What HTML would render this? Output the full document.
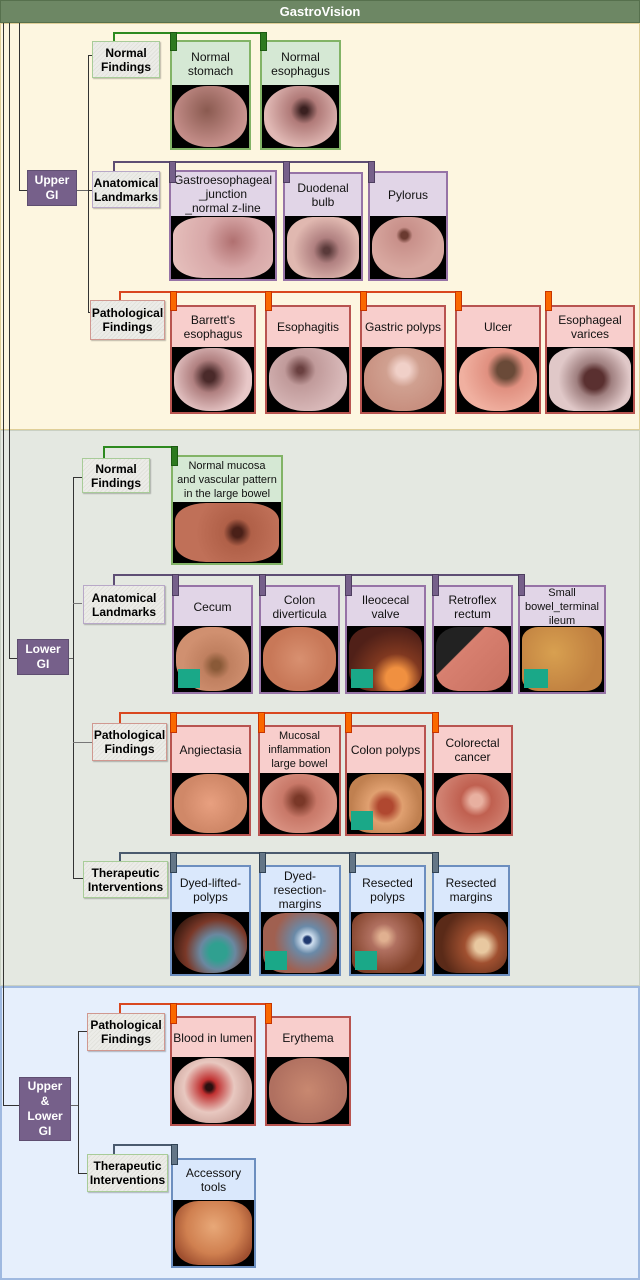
<!DOCTYPE html>
<html><head><meta charset="utf-8"><style>
*{margin:0;padding:0;box-sizing:border-box}
body{width:640px;height:1280px;position:relative;overflow:hidden;background:#fff;font-family:"Liberation Sans",sans-serif}
div{position:absolute}
.sec{left:0;width:640px}
.ln{background:#333}
.cat{border:1px solid #999;background:repeating-linear-gradient(135deg,#ecece8 0 2px,#e2e2dc 2px 3px);font-weight:bold;font-size:12px;line-height:14px;text-align:center;display:flex;align-items:center;justify-content:center;color:#000;box-shadow:1px 1px 1px rgba(0,0,0,.25)}
.grp{background:#76608a;color:#fff;font-weight:bold;font-size:12px;line-height:15px;text-align:center;display:flex;align-items:center;justify-content:center;border:1px solid #5e4e70}
.box{border:2px solid}
.hd{position:absolute;left:0;right:0;top:0;font-size:12px;line-height:14px;text-align:center;display:flex;align-items:center;justify-content:center;color:#111;white-space:nowrap}
.sm{font-size:11px}
.im{position:absolute;left:0;right:0;bottom:0;background:#000;overflow:hidden}
.im i{position:absolute;left:2%;top:2%;width:96%;height:96%;border-radius:45%;display:block}
.g{border-color:#82b366}.g .hd{background:#d5e8d4}
.p{border-color:#9673a6}.p .hd{background:#e1d5e7}
.r{border-color:#b85450}.r .hd{background:#f8cecc}
.b{border-color:#6c8ebf}.b .hd{background:#dae8fc}
.tg{background:#2d7a1f;border:1px solid #1c5a12}
.tp{background:#76608a;border:1px solid #4e3e60}
.tr{background:#fa6800;border:1px solid #c73500}
.tb{background:#647687;border:1px solid #314354}
</style></head><body>
<div class="sec" style="top:0;height:23px;background:#6d8764;border:1px solid #56704d;color:#fff;font-weight:bold;font-size:13px;text-align:center;line-height:22px">GastroVision</div>
<div class="sec" style="top:23px;height:407px;background:#fdf6e0;border:1px solid #e0cf98"></div>
<div class="sec" style="top:430px;height:556px;background:#e4e8e1;border:1px solid #c9d0c3"></div>
<div class="sec" style="top:986px;height:294px;background:#e6effc;border:2px solid #9fb9e0"></div>

<div class="ln" style="left:3px;top:23px;width:1px;height:1083px"></div>
<div class="ln" style="left:3px;top:1105px;width:16px;height:1px"></div>
<div class="ln" style="left:9px;top:23px;width:1px;height:636px"></div>
<div class="ln" style="left:9px;top:658px;width:8px;height:1px"></div>
<div class="ln" style="left:19px;top:23px;width:1px;height:168px"></div>
<div class="ln" style="left:19px;top:190px;width:8px;height:1px"></div>

<div class="grp" style="left:27px;top:170px;width:50px;height:36px">Upper<br>GI</div>
<div class="ln" style="left:77px;top:190px;width:11px;height:1px;background:#666"></div>
<div class="ln" style="left:88px;top:55px;width:1px;height:258px"></div>
<div class="ln" style="left:88px;top:55px;width:4px;height:1px"></div>
<div class="ln" style="left:88px;top:190px;width:4px;height:1px"></div>
<div class="ln" style="left:88px;top:312px;width:4px;height:1px"></div>

<div style="left:113px;top:32px;width:150px;height:2px;background:#2d8a1f"></div>
<div style="left:113px;top:32px;width:2px;height:10px;background:#2d8a1f"></div>
<div class="cat" style="left:92px;top:41px;width:68px;height:37px;border-color:#a8cc98">Normal<br>Findings</div>
<div class="box g" style="left:170px;top:40px;width:81px;height:110px"><div class="hd" style="height:43px">Normal<br>stomach</div><div class="im" style="top:43px"><i style="background:radial-gradient(circle at 45% 40%,#8a5a50,#c08a85 60%,#d8a8a0)"></i></div></div>
<div class="box g" style="left:260px;top:40px;width:81px;height:110px"><div class="hd" style="height:43px">Normal<br>esophagus</div><div class="im" style="top:43px"><i style="background:radial-gradient(circle at 55% 40%,#3a2020 6%,#b07a78 25%,#e0b8b4 70%)"></i></div></div>
<div class="tg" style="left:170px;top:32px;width:7px;height:19px"></div>
<div class="tg" style="left:260px;top:32px;width:7px;height:19px"></div>

<div style="left:113px;top:161px;width:258px;height:2px;background:#5e4e74"></div>
<div style="left:113px;top:161px;width:2px;height:11px;background:#5e4e74"></div>
<div class="cat" style="left:92px;top:171px;width:68px;height:37px;border-color:#b8a8c8">Anatomical<br>Landmarks</div>
<div class="box p" style="left:169px;top:170px;width:108px;height:111px"><div class="hd" style="height:44px">Gastroesophageal<br>_junction<br>_normal z-line</div><div class="im" style="top:44px"><i style="border-radius:30%;background:radial-gradient(circle at 60% 40%,#b07070,#d8a8a8 40%,#e8c4c0)"></i></div></div>
<div class="box p" style="left:283px;top:172px;width:80px;height:109px"><div class="hd" style="height:42px">Duodenal<br>bulb</div><div class="im" style="top:42px"><i style="border-radius:35%;background:radial-gradient(circle at 55% 55%,#5a3a3a 6%,#b08080 25%,#e0b8b0 65%)"></i></div></div>
<div class="box p" style="left:368px;top:171px;width:80px;height:110px"><div class="hd" style="height:43px">Pylorus</div><div class="im" style="top:43px"><i style="background:radial-gradient(circle at 45% 30%,#6a3a30 6%,#c8908a 14%,#d8a8a0 60%)"></i></div></div>
<div class="tp" style="left:169px;top:161px;width:7px;height:22px"></div>
<div class="tp" style="left:283px;top:161px;width:7px;height:22px"></div>
<div class="tp" style="left:368px;top:161px;width:7px;height:22px"></div>

<div style="left:119px;top:291px;width:342px;height:2px;background:#d9471f"></div>
<div style="left:119px;top:291px;width:2px;height:10px;background:#d9471f"></div>
<div class="cat" style="left:90px;top:300px;width:75px;height:40px;border-color:#d09890">Pathological<br>Findings</div>
<div class="box r" style="left:170px;top:305px;width:86px;height:109px"><div class="hd" style="height:40px">Barrett's<br>esophagus</div><div class="im" style="top:40px"><i style="background:radial-gradient(circle at 45% 45%,#4a2a2a 10%,#b08080 30%,#e8c8c8 70%)"></i></div></div>
<div class="box r" style="left:265px;top:305px;width:86px;height:109px"><div class="hd" style="height:40px">Esophagitis</div><div class="im" style="top:40px"><i style="background:radial-gradient(circle at 40% 35%,#6a4040 5%,#c09a9a 25%,#d8b8b8 70%)"></i></div></div>
<div class="box r" style="left:360px;top:305px;width:86px;height:109px"><div class="hd" style="height:40px">Gastric polyps</div><div class="im" style="top:40px"><i style="background:radial-gradient(circle at 50% 35%,#f0d0c8 12%,#d0a090 30%,#c89080 70%)"></i></div></div>
<div class="box r" style="left:455px;top:305px;width:86px;height:109px"><div class="hd" style="height:40px">Ulcer</div><div class="im" style="top:40px"><i style="background:radial-gradient(circle at 60% 35%,#6a4a38 14%,#e09080 30%,#f0b0a0 70%)"></i></div></div>
<div class="box r" style="left:545px;top:305px;width:90px;height:109px"><div class="hd" style="height:40px">Esophageal<br>varices</div><div class="im" style="top:40px"><i style="border-radius:30%;background:radial-gradient(circle at 55% 50%,#5a3030 18%,#a08080 32%,#e0c8c8 65%)"></i></div></div>
<div class="tr" style="left:170px;top:291px;width:7px;height:20px"></div>
<div class="tr" style="left:265px;top:291px;width:7px;height:20px"></div>
<div class="tr" style="left:360px;top:291px;width:7px;height:20px"></div>
<div class="tr" style="left:455px;top:291px;width:7px;height:20px"></div>
<div class="tr" style="left:545px;top:291px;width:7px;height:20px"></div>

<div class="grp" style="left:17px;top:639px;width:52px;height:36px">Lower<br>GI</div>
<div class="ln" style="left:69px;top:658px;width:4px;height:1px;background:#666"></div>
<div class="ln" style="left:73px;top:477px;width:1px;height:402px"></div>
<div class="ln" style="left:73px;top:477px;width:9px;height:1px"></div>
<div class="ln" style="left:73px;top:603px;width:9px;height:1px;background:#777"></div>
<div class="ln" style="left:73px;top:742px;width:19px;height:1px;background:#777"></div>
<div class="ln" style="left:73px;top:878px;width:10px;height:1px"></div>

<div style="left:103px;top:446px;width:72px;height:2px;background:#2d8a1f"></div>
<div style="left:103px;top:446px;width:2px;height:12px;background:#2d8a1f"></div>
<div class="cat" style="left:82px;top:458px;width:68px;height:35px;border-color:#a8cc98">Normal<br>Findings</div>
<div class="box g" style="left:171px;top:455px;width:112px;height:110px"><div class="hd sm" style="height:45px">Normal mucosa<br>and vascular pattern<br>in the large bowel</div><div class="im" style="top:45px"><i style="border-radius:30%;background:radial-gradient(circle at 60% 50%,#4a2018 7%,#b06048 20%,#c07058 60%)"></i></div></div>
<div class="tg" style="left:171px;top:446px;width:7px;height:20px"></div>

<div style="left:113px;top:574px;width:408px;height:2px;background:#5e4e74"></div>
<div style="left:113px;top:574px;width:2px;height:11px;background:#5e4e74"></div>
<div class="cat" style="left:83px;top:585px;width:82px;height:39px;border-color:#b8a8c8">Anatomical<br>Landmarks</div>
<div class="box p" style="left:172px;top:585px;width:81px;height:109px"><div class="hd" style="height:39px">Cecum</div><div class="im" style="top:39px"><i style="background:radial-gradient(circle at 55% 60%,#8a5a38 8%,#c08060 25%,#d09070 60%)"></i><b style="position:absolute;left:4px;bottom:4px;width:22px;height:19px;background:#1aa888"></b></div></div>
<div class="box p" style="left:259px;top:585px;width:81px;height:109px"><div class="hd" style="height:39px">Colon<br>diverticula</div><div class="im" style="top:39px"><i style="background:radial-gradient(circle at 50% 50%,#d89070,#c87858 60%)"></i></div></div>
<div class="box p" style="left:345px;top:585px;width:81px;height:109px"><div class="hd" style="height:39px">Ileocecal<br>valve</div><div class="im" style="top:39px"><i style="border-radius:30%;background:radial-gradient(circle at 65% 80%,#f09040 15%,#803820 35%,#502018 70%)"></i><b style="position:absolute;left:4px;bottom:4px;width:22px;height:19px;background:#1aa888"></b></div></div>
<div class="box p" style="left:432px;top:585px;width:81px;height:109px"><div class="hd" style="height:39px">Retroflex<br>rectum</div><div class="im" style="top:39px"><i style="border-radius:30%;background:linear-gradient(135deg,#222 35%,#d88070 36%,#c87060)"></i></div></div>
<div class="box p" style="left:518px;top:585px;width:88px;height:109px"><div class="hd sm" style="height:39px">Small<br>bowel_terminal<br>ileum</div><div class="im" style="top:39px"><i style="border-radius:20%;background:radial-gradient(circle at 40% 40%,#d8a050,#c08040 70%)"></i><b style="position:absolute;left:4px;bottom:4px;width:24px;height:19px;background:#1aa888"></b></div></div>
<div class="tp" style="left:172px;top:574px;width:7px;height:22px"></div>
<div class="tp" style="left:259px;top:574px;width:7px;height:22px"></div>
<div class="tp" style="left:345px;top:574px;width:7px;height:22px"></div>
<div class="tp" style="left:432px;top:574px;width:7px;height:22px"></div>
<div class="tp" style="left:518px;top:574px;width:7px;height:22px"></div>

<div style="left:119px;top:712px;width:320px;height:2px;background:#d9471f"></div>
<div style="left:119px;top:712px;width:2px;height:11px;background:#d9471f"></div>
<div class="cat" style="left:92px;top:723px;width:75px;height:38px;border-color:#d09890">Pathological<br>Findings</div>
<div class="box r" style="left:170px;top:725px;width:81px;height:111px"><div class="hd" style="height:46px">Angiectasia</div><div class="im" style="top:46px"><i style="background:radial-gradient(circle at 50% 50%,#e8a080,#d08868 60%)"></i></div></div>
<div class="box r" style="left:258px;top:725px;width:83px;height:111px"><div class="hd sm" style="height:46px">Mucosal<br>inflammation<br>large bowel</div><div class="im" style="top:46px"><i style="background:radial-gradient(circle at 50% 45%,#7a3828 10%,#c87868 35%,#d89080 70%)"></i></div></div>
<div class="box r" style="left:345px;top:725px;width:81px;height:111px"><div class="hd" style="height:46px">Colon polyps</div><div class="im" style="top:46px"><i style="border-radius:30%;background:radial-gradient(circle at 50% 55%,#b04830 15%,#e0a070 35%,#c08050 70%)"></i><b style="position:absolute;left:4px;bottom:4px;width:22px;height:19px;background:#1aa888"></b></div></div>
<div class="box r" style="left:432px;top:725px;width:81px;height:111px"><div class="hd" style="height:46px">Colorectal<br>cancer</div><div class="im" style="top:46px"><i style="background:radial-gradient(circle at 55% 45%,#e8b0a0 12%,#c06050 30%,#d08070 70%)"></i></div></div>
<div class="tr" style="left:170px;top:712px;width:7px;height:21px"></div>
<div class="tr" style="left:258px;top:712px;width:7px;height:21px"></div>
<div class="tr" style="left:345px;top:712px;width:7px;height:21px"></div>
<div class="tr" style="left:432px;top:712px;width:7px;height:21px"></div>

<div style="left:119px;top:852px;width:320px;height:2px;background:#4a5a6e"></div>
<div style="left:119px;top:852px;width:2px;height:10px;background:#4a5a6e"></div>
<div class="cat" style="left:83px;top:861px;width:85px;height:37px;border-color:#a8cc98">Therapeutic<br>Interventions</div>
<div class="box b" style="left:170px;top:865px;width:81px;height:111px"><div class="hd" style="height:45px">Dyed-lifted-<br>polyps</div><div class="im" style="top:45px"><i style="background:radial-gradient(circle at 60% 65%,#30a090 15%,#6a88a0 30%,#7a3828 55%,#3a1a10 80%)"></i></div></div>
<div class="box b" style="left:259px;top:865px;width:82px;height:111px"><div class="hd" style="height:45px">Dyed-<br>resection-<br>margins</div><div class="im" style="top:45px"><i style="border-radius:30%;background:radial-gradient(circle at 60% 45%,#203a70 6%,#d0e0f0 10%,#6a8aa8 25%,#a06050 60%)"></i><b style="position:absolute;left:4px;bottom:4px;width:22px;height:19px;background:#1aa888"></b></div></div>
<div class="box b" style="left:349px;top:865px;width:77px;height:111px"><div class="hd" style="height:45px">Resected<br>polyps</div><div class="im" style="top:45px"><i style="border-radius:20%;background:radial-gradient(circle at 45% 40%,#e0b090 8%,#b07060 25%,#804028 70%)"></i><b style="position:absolute;left:4px;bottom:4px;width:22px;height:19px;background:#1aa888"></b></div></div>
<div class="box b" style="left:432px;top:865px;width:78px;height:111px"><div class="hd" style="height:45px">Resected<br>margins</div><div class="im" style="top:45px"><i style="border-radius:30%;background:radial-gradient(circle at 65% 55%,#e8c8a0 12%,#a05030 30%,#5a2a18 70%)"></i></div></div>
<div class="tb" style="left:170px;top:852px;width:7px;height:21px"></div>
<div class="tb" style="left:259px;top:852px;width:7px;height:21px"></div>
<div class="tb" style="left:349px;top:852px;width:7px;height:21px"></div>
<div class="tb" style="left:432px;top:852px;width:7px;height:21px"></div>

<div class="grp" style="left:19px;top:1077px;width:52px;height:64px">Upper<br>&amp;<br>Lower<br>GI</div>
<div class="ln" style="left:71px;top:1105px;width:7px;height:1px;background:#666"></div>
<div class="ln" style="left:78px;top:1031px;width:1px;height:143px"></div>
<div class="ln" style="left:78px;top:1031px;width:9px;height:1px"></div>
<div class="ln" style="left:78px;top:1173px;width:9px;height:1px"></div>

<div style="left:119px;top:1003px;width:151px;height:2px;background:#d9471f"></div>
<div style="left:119px;top:1003px;width:2px;height:11px;background:#d9471f"></div>
<div class="cat" style="left:87px;top:1013px;width:78px;height:38px;border-color:#d09890">Pathological<br>Findings</div>
<div class="box r" style="left:170px;top:1016px;width:86px;height:110px"><div class="hd" style="height:39px">Blood in lumen</div><div class="im" style="top:39px"><i style="background:radial-gradient(circle at 45% 45%,#2a1010 6%,#c03030 14%,#e8c8c0 45%,#d0a8a0 70%)"></i></div></div>
<div class="box r" style="left:265px;top:1016px;width:86px;height:110px"><div class="hd" style="height:39px">Erythema</div><div class="im" style="top:39px"><i style="background:radial-gradient(circle at 50% 50%,#c88870,#b07060 70%)"></i></div></div>
<div class="tr" style="left:170px;top:1003px;width:7px;height:21px"></div>
<div class="tr" style="left:265px;top:1003px;width:7px;height:21px"></div>

<div style="left:113px;top:1144px;width:63px;height:2px;background:#4a5a6e"></div>
<div style="left:113px;top:1144px;width:2px;height:11px;background:#4a5a6e"></div>
<div class="cat" style="left:87px;top:1154px;width:81px;height:38px;border-color:#a8cc98">Therapeutic<br>Interventions</div>
<div class="box b" style="left:171px;top:1158px;width:85px;height:110px"><div class="hd" style="height:40px">Accessory<br>tools</div><div class="im" style="top:40px"><i style="border-radius:30%;background:radial-gradient(circle at 50% 40%,#e8a878,#d08050 50%,#a05030 80%)"></i></div></div>
<div class="tb" style="left:171px;top:1144px;width:7px;height:21px"></div>
</body></html>
